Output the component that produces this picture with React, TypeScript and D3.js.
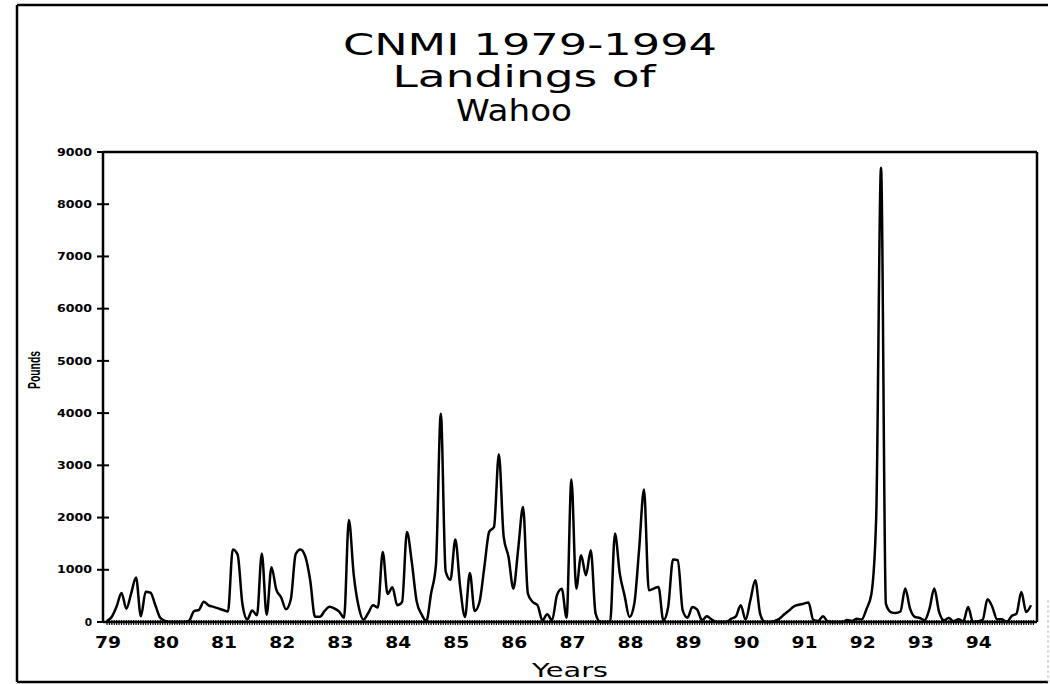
import React from "react";
import * as d3 from "d3";

// Monthly landings (pounds), Jan..Dec of each year
const years = ["79","80","81","82","83","84","85","86","87","88","89","90","91","92","93","94"];
const y1979 = [20, 100, 300, 556, 255, 550, 850, 110, 580, 560, 320, 80];
const y1980 = [20, 0, 0, 0, 0, 30, 210, 230, 390, 320, 290, 260];
const y1981 = [230, 200, 1390, 1290, 340, 50, 220, 130, 1310, 140, 1050, 620];
const y1982 = [470, 243, 435, 1300, 1390, 1250, 800, 100, 100, 211, 294, 260];
const y1983 = [200, 83, 1955, 907, 300, 45, 172, 320, 280, 1342, 537, 665];
const y1984 = [320, 383, 1725, 1150, 400, 150, 20, 550, 1100, 3990, 971, 811];
const y1985 = [1578, 671, 96, 939, 211, 383, 1050, 1725, 1821, 3214, 1629, 1246];
const y1986 = [639, 1400, 2204, 543, 383, 320, 32, 147, 32, 511, 639, 83];
const y1987 = [2729, 639, 1278, 895, 1374, 160, 0, 0, 0, 1693, 927, 500];
const y1988 = [96, 351, 1400, 2537, 607, 640, 671, 32, 288, 1195, 1182, 224];
const y1989 = [83, 288, 236, 32, 109, 45, 0, 0, 0, 60, 109, 320];
const y1990 = [45, 420, 799, 160, 0, 0, 20, 64, 147, 220, 300, 330];
const y1991 = [350, 375, 40, 20, 110, 10, 0, 0, 0, 40, 20, 60];
const y1992 = [50, 250, 530, 2000, 8700, 350, 190, 170, 200, 640, 256, 96];
const y1993 = [77, 32, 250, 640, 192, 32, 77, 13, 51, 10, 288, 0];
const y1994 = [13, 40, 434, 288, 51, 51, 0, 115, 160, 575, 192, 320];
const yTicks = [0, 1000, 2000, 3000, 4000, 5000, 6000, 7000, 8000, 9000];
const titleLines = ["CNMI 1979-1994", "Landings of", "Wahoo"];

const values = [
  ...y1979, ...y1980, ...y1981, ...y1982, ...y1983, ...y1984, ...y1985, ...y1986,
  ...y1987, ...y1988, ...y1989, ...y1990, ...y1991, ...y1992, ...y1993, ...y1994,
];

export default function App() {
  const W = 1050, H = 684;
  const left = 103, right = 1037, top = 152, bottom = 622;
  const x = d3.scaleLinear().domain([0, values.length - 1]).range([107, 1031]);
  const y = d3.scaleLinear().domain([0, 9000]).range([bottom, top]);
  const line = d3.line<number>().x((_, i) => x(i)).y((d) => y(d)).curve(d3.curveMonotoneX);
  const hatch = d3.range(0, values.length, 0.5);
  const font = "'DejaVu Sans', sans-serif";
  const titlePos = [
    { cx: 530, by: 55, len: 374 },
    { cx: 524, by: 87, len: 263 },
    { cx: 514, by: 121, len: 116 },
  ];

  return (
    <svg width={W} height={H} style={{ position: "absolute", left: 0, top: 0, background: "#fff" }}>
      <rect x={0} y={0} width={W} height={H} fill="#fff" />
      {/* outer border */}
      <line x1={17} y1={5} x2={1048} y2={5} stroke="#000" strokeWidth={2.5} />
      <line x1={17} y1={5} x2={17} y2={682} stroke="#000" strokeWidth={2.5} />
      <line x1={17} y1={682} x2={1048} y2={682} stroke="#000" strokeWidth={2.5} />
      <line x1={1048} y1={600} x2={1048} y2={682} stroke="#bbb" strokeWidth={1} strokeDasharray="3 2" />

      {/* title */}
      <g fontFamily={font} fill="#000" textAnchor="middle" fontSize={30}>
        {titleLines.map((t, k) => (
          <text key={t} x={titlePos[k].cx} y={titlePos[k].by} textLength={titlePos[k].len}
            lengthAdjust="spacingAndGlyphs">{t}</text>
        ))}
      </g>

      {/* frame */}
      <line x1={left} y1={top} x2={right} y2={top} stroke="#000" strokeWidth={2.5} />
      <line x1={right} y1={top} x2={right} y2={bottom} stroke="#000" strokeWidth={2.5} />
      <line x1={left} y1={top} x2={left} y2={bottom + 1} stroke="#000" strokeWidth={2.5} />

      {/* y ticks and labels */}
      {yTicks.map((t) => (
        <g key={t}>
          <line x1={left - 6} x2={left + 6} y1={y(t)} y2={y(t)} stroke="#000" strokeWidth={2} />
          <text x={92} y={y(t)} dy="0.35em" textAnchor="end" fontFamily={font} fontWeight="bold"
            fontSize={10.5} textLength={t === 0 ? undefined : 35} lengthAdjust="spacingAndGlyphs">{t}</text>
        </g>
      ))}

      {/* x axis hatched baseline */}
      <line x1={left} x2={right} y1={bottom} y2={bottom} stroke="#000" strokeWidth={2.5} />
      {hatch.map((h) => (
        <line key={h} x1={x(h)} x2={x(h)} y1={bottom - 2} y2={bottom + 3} stroke="#000" strokeWidth={1.2} />
      ))}
      {years.map((yr, k) => (
        <text key={yr} x={x(k * 12) + 1} y={648} textAnchor="middle" fontFamily={font}
          fontWeight="bold" fontSize={15} textLength={26} lengthAdjust="spacingAndGlyphs">{yr}</text>
      ))}

      {/* axis titles */}
      <text x={570} y={677} textAnchor="middle" fontFamily={font} fontSize={20} textLength={76}
        lengthAdjust="spacingAndGlyphs">Years</text>
      <text transform="translate(40,370) rotate(-90)" textAnchor="middle"
        fontFamily="'Liberation Sans Narrow', 'Liberation Sans', sans-serif" fontWeight="bold" fontSize={16}
        textLength={38} lengthAdjust="spacingAndGlyphs">Pounds</text>

      {/* data line */}
      <path d={line(values) || ""} fill="none" stroke="#000" strokeWidth={2.5} strokeLinejoin="round" />
    </svg>
  );
}
